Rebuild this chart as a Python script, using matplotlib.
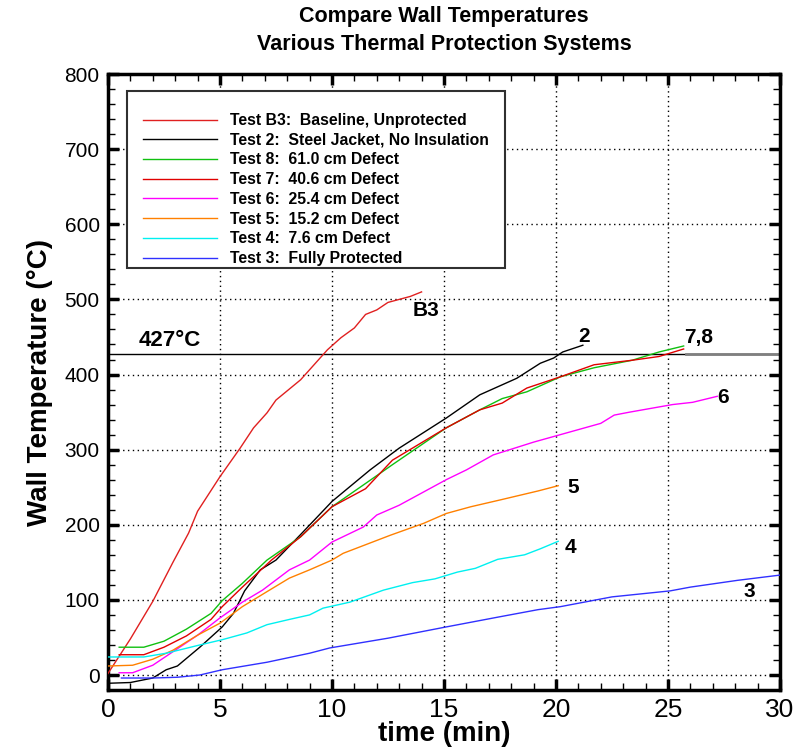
import matplotlib
matplotlib.use("Agg")
import matplotlib.pyplot as plt
from matplotlib.patches import Rectangle
from matplotlib.ticker import MultipleLocator

# --- data ---
t_b3 = [0, 1, 2, 2.9, 3.6, 4.0, 5.0, 5.9, 6.5, 7.1, 7.5, 8.6, 9.2, 9.8, 10.4, 11.0, 11.5, 12.0, 12.5, 13.0, 13.5, 14.0]
T_b3 = [2, 48, 98, 150, 189, 218, 264, 302, 329, 349, 366, 393, 413, 433, 449, 462, 480, 486, 496, 500, 504, 510]

t_2 = [0, 1, 2, 2.6, 3.1, 4.1, 5.1, 5.6, 6.1, 6.8, 7.5, 8.6, 10.0, 11.7, 13.0, 15.1, 16.6, 18.25, 19.3, 19.9, 20.3, 21.2]
T_2 = [-11, -10, -4, 7, 12, 37, 64, 82, 112, 140, 153, 187, 231, 273, 302, 342, 373, 395, 415, 422, 430, 439]

t_8 = [0.5, 1.6, 2.5, 3.5, 4.6, 5.1, 6.0, 7.1, 8.6, 10.0, 11.5, 12.7, 15.1, 16.6, 17.6, 18.7, 20.2, 21.7, 23.4, 24.6, 25.7]
T_8 = [37, 37, 45, 61, 82, 99, 122, 153, 184, 224, 255, 280, 329, 353, 368, 377, 397, 409, 419, 430, 438]

t_7 = [0.5, 1.6, 2.5, 3.5, 4.6, 5.1, 6.0, 7.3, 8.6, 10.0, 11.5, 12.7, 15.1, 16.6, 17.6, 18.7, 20.2, 21.7, 23.4, 24.6, 25.7]
T_7 = [27, 27, 37, 52, 74, 91, 117, 153, 184, 224, 248, 286, 329, 353, 362, 382, 397, 413, 419, 424, 434]

t_6 = [0.5, 1.1, 2, 2.9, 4, 5, 6, 6.9, 8.1, 9, 10, 11.4, 12, 13, 15.1, 16, 17.2, 19, 20.2, 22, 22.6, 23.3, 25.2, 26.1, 27.2]
T_6 = [3, 3, 13, 31, 53, 76, 97, 113, 140, 153, 177, 197, 213, 226, 260, 273, 293, 310, 320, 335, 346, 350, 360, 363, 371]

t_5 = [0, 1.1, 2, 2.9, 4, 5, 6, 7.1, 8.1, 9, 10, 10.5, 12.6, 14.1, 15.1, 16.2, 17.5, 19.2, 20.1]
T_5 = [12, 13, 21, 33, 53, 69, 91, 111, 129, 140, 153, 162, 186, 202, 215, 224, 233, 245, 252]

t_4 = [0, 1.6, 2.6, 4.1, 5.1, 6.2, 7.1, 8.1, 9, 9.6, 10.8, 12.3, 13.6, 14.6, 15.6, 16.4, 17.4, 18.6, 19.3, 20.1]
T_4 = [24, 24, 29, 40, 47, 56, 67, 74, 80, 89, 97, 113, 123, 128, 137, 142, 154, 160, 168, 178]

t_3 = [0.6, 2, 3.1, 4.1, 5.1, 7.1, 9, 9.9, 12.5, 15.1, 17.4, 19.2, 20.2, 22.5, 25.1, 26, 28.1, 30]
T_3 = [-4, -4, -3, 0, 7, 17, 29, 36, 49, 64, 77, 87, 91, 104, 112, 117, 126, 133]

limit_temp = 427

series = [
    (t_b3, T_b3, "#e02020", "Test B3:  Baseline, Unprotected"),
    (t_2, T_2, "black", "Test 2:  Steel Jacket, No Insulation"),
    (t_8, T_8, "#10c010", "Test 8:  61.0 cm Defect"),
    (t_7, T_7, "#e00000", "Test 7:  40.6 cm Defect"),
    (t_6, T_6, "#ff00ff", "Test 6:  25.4 cm Defect"),
    (t_5, T_5, "#ff8000", "Test 5:  15.2 cm Defect"),
    (t_4, T_4, "#00f0f0", "Test 4:  7.6 cm Defect"),
    (t_3, T_3, "#3030ff", "Test 3:  Fully Protected"),
]

end_labels = [("B3", 13.6, 478), ("2", 21.0, 443), ("7,8", 25.7, 442), ("6", 27.2, 362),
              ("5", 20.5, 242), ("4", 20.4, 162), ("3", 28.35, 104)]

plt.rcParams["font.family"] = ["Liberation Sans", "DejaVu Sans"]

fig = plt.figure(figsize=(7.98, 7.48), dpi=100)
ax = fig.add_axes([0.1353, 0.0775, 0.8421, 0.8235])

# 427 C limit line
ax.axhline(limit_temp, color="black", lw=1.0, zorder=2)
ax.plot([25.8, 30], [limit_temp, limit_temp], color="#808080", lw=2.0, zorder=2)

for t, T, c, lab in series:
    ax.plot(t, T, color=c, lw=1.0, label=lab, zorder=3)

ax.set_xlim(0, 30)
ax.set_ylim(-20, 800)
ax.xaxis.set_major_locator(MultipleLocator(5))
ax.xaxis.set_minor_locator(MultipleLocator(1))
ax.yaxis.set_major_locator(MultipleLocator(100))
ax.yaxis.set_minor_locator(MultipleLocator(20))
ax.grid(True, which="major", color="black", linestyle=(0, (1, 2.5)), lw=1.0)

ax.tick_params(which="both", direction="in", top=True, right=True)
ax.tick_params(which="major", length=8, width=2.5)
ax.tick_params(which="minor", length=5, width=1.0)
ax.tick_params(axis="y", labelsize=15, pad=6)
ax.tick_params(axis="x", labelsize=19, pad=6)
for s in ax.spines.values():
    s.set_linewidth(2.5)

ax.set_xlabel("time (min)", fontsize=20, fontweight="bold", labelpad=-1)
ax.set_ylabel("Wall Temperature (°C)", fontsize=20, fontweight="bold", labelpad=8)
ax.set_title("Compare Wall Temperatures\nVarious Thermal Protection Systems",
             fontsize=15.5, fontweight="bold", pad=17, linespacing=1.45)

ax.text(1.35, 438, "427°C", fontsize=16, fontweight="bold")
for s, x, y in end_labels:
    ax.text(x, y, s, fontsize=15, fontweight="bold")

# legend box with empty room at the top
ax.add_patch(Rectangle((0.0283, 0.685), 0.563, 0.287, transform=ax.transAxes,
                       fill=True, facecolor="white", edgecolor="#303030", lw=1.5, zorder=4))
leg = ax.legend(loc="lower left", bbox_to_anchor=(0.034, 0.668), frameon=False,
                prop={"size": 11.3, "weight": "bold"}, handlelength=4.7, handletextpad=0.8,
                labelspacing=0.3, borderpad=0.3)
leg.set_zorder(5)

fig.savefig("out.png", dpi=100)
